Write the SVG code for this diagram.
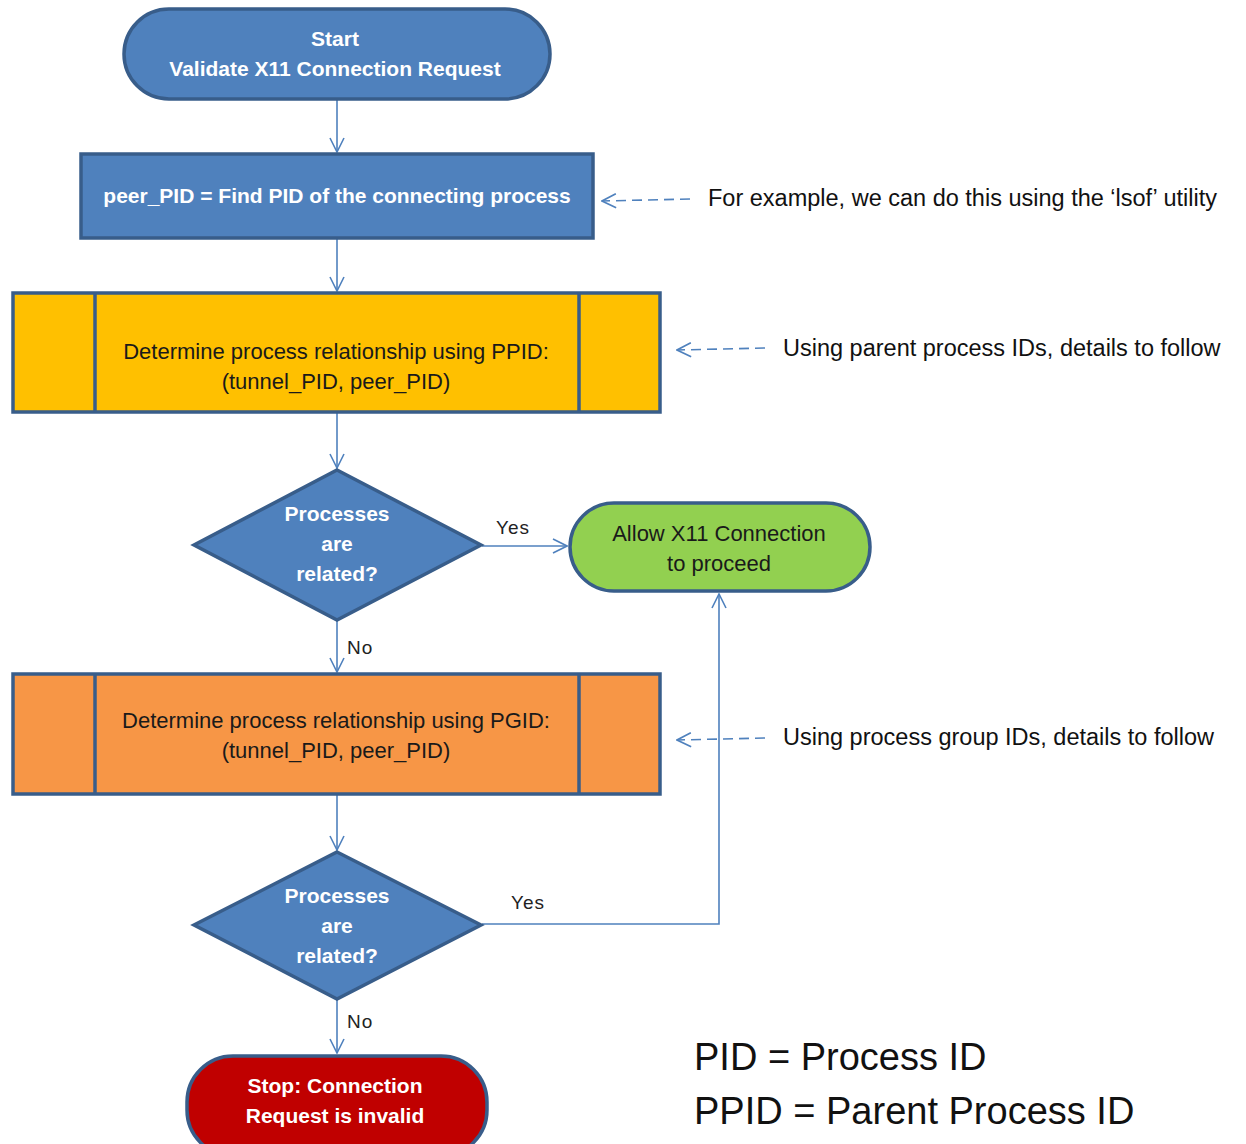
<svg xmlns="http://www.w3.org/2000/svg" width="1246" height="1144" viewBox="0 0 1246 1144">
<defs>
<marker id="arr" viewBox="0 0 16 16" refX="15" refY="8" markerWidth="16" markerHeight="16" markerUnits="userSpaceOnUse" orient="auto">
<path d="M1,1 L15,8 L1,15" fill="none" stroke="#4F81BD" stroke-width="1.6"/>
</marker>
</defs>
<style>
.term{stroke:#385D8A;stroke-width:3.5}
.blue{fill:#4F81BD}
.box{stroke:#385D8A;stroke-width:3.5}
.div{stroke:#385D8A;stroke-width:3.5}
.wt{font-family:"Liberation Sans",Arial,sans-serif;font-size:21px;font-weight:bold;fill:#ffffff;text-anchor:middle}
.bt{font-family:"Liberation Sans",Arial,sans-serif;font-size:22px;fill:#1a1a1a;text-anchor:middle}
.note{font-family:"Liberation Sans",Arial,sans-serif;font-size:23.5px;fill:#111111}
.lab{font-family:"Liberation Sans",Arial,sans-serif;font-size:19px;letter-spacing:1px;fill:#222222}
.leg{font-family:"Liberation Sans",Arial,sans-serif;font-size:38px;fill:#111111}
.con{fill:none;stroke:#4F81BD;stroke-width:1.6}
.dash{fill:none;stroke:#4F81BD;stroke-width:1.6;stroke-dasharray:10,6}
</style>
<g id="connectors">
<line class="con" x1="337" y1="100" x2="337" y2="152" marker-end="url(#arr)"/>
<line class="con" x1="337" y1="239" x2="337" y2="291" marker-end="url(#arr)"/>
<line class="con" x1="337" y1="413" x2="337" y2="468" marker-end="url(#arr)"/>
<line class="con" x1="482" y1="546" x2="567" y2="546" marker-end="url(#arr)"/>
<line class="con" x1="337" y1="621" x2="337" y2="672" marker-end="url(#arr)"/>
<line class="con" x1="337" y1="795" x2="337" y2="850" marker-end="url(#arr)"/>
<polyline class="con" points="482,924 719,924 719,594" marker-end="url(#arr)"/>
<line class="con" x1="337" y1="1000" x2="337" y2="1053" marker-end="url(#arr)"/>
<line class="dash" x1="690" y1="199" x2="602" y2="201" marker-end="url(#arr)"/>
<line class="dash" x1="765" y1="348" x2="677" y2="350" marker-end="url(#arr)"/>
<line class="dash" x1="765" y1="738" x2="677" y2="740" marker-end="url(#arr)"/>
<text class="lab" x="496" y="534">Yes</text>
<text class="lab" x="347" y="654">No</text>
<text class="lab" x="511" y="909">Yes</text>
<text class="lab" x="347" y="1028">No</text>
</g>
<g id="start">
<rect class="blue term" x="124" y="9" width="426" height="90" rx="45" ry="45"/>
<text class="wt" x="335" y="46">Start</text>
<text class="wt" x="335" y="76">Validate X11 Connection Request</text>
</g>
<g id="findpid">
<rect class="blue box" x="81" y="154" width="512" height="84"/>
<text class="wt" x="337" y="203">peer_PID = Find PID of the connecting process</text>
</g>
<g id="ppid">
<rect class="box" fill="#FFC000" x="13" y="293" width="647" height="119"/>
<line class="div" x1="95" y1="293" x2="95" y2="412"/>
<line class="div" x1="579" y1="293" x2="579" y2="412"/>
<text class="bt" x="336" y="359">Determine process relationship using PPID:</text>
<text class="bt" x="336" y="389">(tunnel_PID, peer_PID)</text>
</g>
<g id="decision1">
<polygon class="blue box" points="337,470 481,545 337,620 194,545"/>
<text class="wt" x="337" y="521">Processes</text>
<text class="wt" x="337" y="551">are</text>
<text class="wt" x="337" y="581">related?</text>
</g>
<g id="allow">
<rect class="term" fill="#92D050" x="570" y="503" width="300" height="88" rx="44" ry="44"/>
<text class="bt" x="719" y="541">Allow X11 Connection</text>
<text class="bt" x="719" y="571">to proceed</text>
</g>
<g id="pgid">
<rect class="box" fill="#F79646" x="13" y="674" width="647" height="120"/>
<line class="div" x1="95" y1="674" x2="95" y2="794"/>
<line class="div" x1="579" y1="674" x2="579" y2="794"/>
<text class="bt" x="336" y="728">Determine process relationship using PGID:</text>
<text class="bt" x="336" y="758">(tunnel_PID, peer_PID)</text>
</g>
<g id="decision2">
<polygon class="blue box" points="337,852 481,925 337,999 194,925"/>
<text class="wt" x="337" y="903">Processes</text>
<text class="wt" x="337" y="933">are</text>
<text class="wt" x="337" y="963">related?</text>
</g>
<g id="stop">
<rect class="term" fill="#C00000" x="187" y="1056" width="300" height="100" rx="46" ry="46"/>
<text class="wt" x="335" y="1093">Stop: Connection</text>
<text class="wt" x="335" y="1123">Request is invalid</text>
</g>
<g id="notes">
<text class="note" x="708" y="206">For example, we can do this using the ‘lsof’ utility</text>
<text class="note" x="783" y="356">Using parent process IDs, details to follow</text>
<text class="note" x="783" y="745">Using process group IDs, details to follow</text>
<text class="leg" x="694" y="1070">PID = Process ID</text>
<text class="leg" x="694" y="1124">PPID = Parent Process ID</text>
</g>
</svg>
